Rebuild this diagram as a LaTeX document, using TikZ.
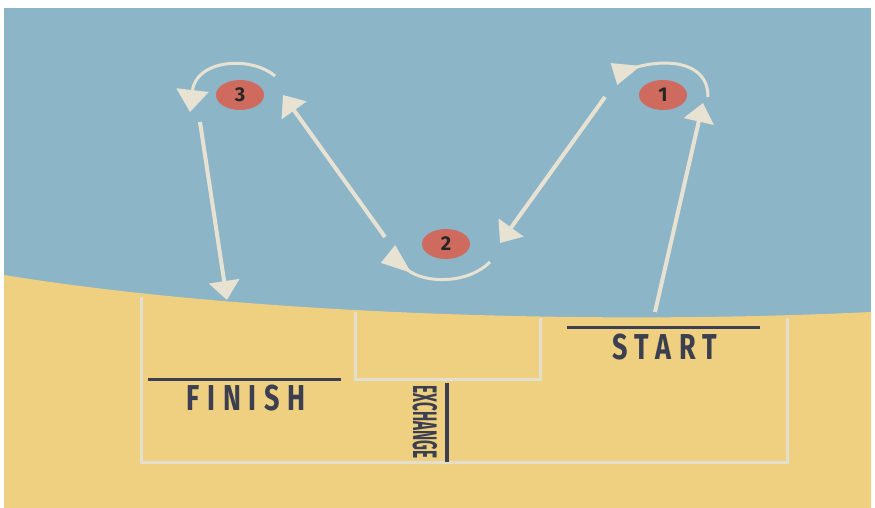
\documentclass[tikz,border=0pt]{standalone}
\usepackage{fontspec}
\newfontfamily\signfont[LetterSpace=28]{Fira Sans}
\newfontfamily\narrowfont{Fira Sans}
\usetikzlibrary{arrows.meta,shapes.geometric}

\definecolor{skyblue}{RGB}{141,181,200}
\definecolor{sand}{RGB}{239,208,128}
\definecolor{courtline}{RGB}{228,222,206}
\definecolor{chalk}{RGB}{232,226,210}
\definecolor{ink}{RGB}{59,63,80}
\definecolor{conered}{RGB}{206,107,94}

\begin{document}
\begin{tikzpicture}[x=0.5pt, y=-0.5pt,
      court/.style={draw=courtline, line width=1.5pt},
      tape/.style={draw=ink, line width=1.5pt},
      runner/.style={draw=chalk, line width=2pt, -{Triangle[length=9.5pt, width=15pt]}},
      turn/.style={draw=chalk, line width=1.5pt},
      cone/.style={ellipse, fill=conered, minimum width=24pt, minimum height=15pt,
                   inner sep=0pt, text=black!85, font=\narrowfont\bfseries\fontsize{10}{10}\selectfont},
      sign/.style={text=ink, font=\signfont\bfseries\fontsize{18}{18}\selectfont, xscale=0.75}]

    \useasboundingbox (0,0) rectangle (875,508);
    \fill[white]   (0,0) rectangle (875,508);
    \fill[skyblue] (4,8) rectangle (871,508);
    \fill[sand] (4,275) .. controls (250,315) and (600,325) .. (871,312) -- (871,508) -- (4,508) -- cycle;

    % court lines
    \draw[court] (141,297) -- (141,463) -- (787,463) -- (787,318);
    \draw[court] (355,312) -- (355,380) -- (540,380) -- (540,318);

    % tapes and signs
    \draw[tape] (148,380) -- (341,380);
    \draw[tape] (567,328) -- (760,328);
    \draw[tape, line width=2pt] (447,383) -- (447,462);

    \node[sign] (finish) at (246,398) {FINISH};
    \node[sign] (start) at (665,347) {START};
    \node[text=ink, font=\narrowfont\bfseries\fontsize{17}{17}\selectfont,
          rotate=-90, xscale=0.45] (exchange) at (425,422) {EXCHANGE};

    % cones
    \node[cone] (c1) at (663,95)  {1};
    \node[cone] (c2) at (446,244) {2};
    \node[cone] (c3) at (240,95)  {3};

    % turns round the cones
    \draw[turn, -{Triangle[reversed, length=14pt, width=11pt]}]
      (708,97) .. controls (708,58) and (660,60) .. (614,74);
    \draw[turn, -{Triangle[reversed, length=15pt, width=11pt]}]
      (490,262) .. controls (468,284) and (425,284) .. (388,254);
    \draw[turn, -{Triangle[length=11pt, width=16pt]}]
      (275,76) .. controls (250,55) and (196,60) .. (190,112);

    % runs between the cones
    \coordinate (foot) at (655,312);
    \coordinate (top1) at (703,103);
    \coordinate (out1) at (605,97);
    \coordinate (in2)  at (500,243);
    \coordinate (out2) at (385,237);
    \coordinate (in3)  at (283,95);
    \coordinate (out3) at (200,122);
    \coordinate (home) at (227,300);

    \draw[runner] (foot) -- (top1);
    \draw[runner] (out1) -- (in2);
    \draw[runner] (out2) -- (in3);
    \draw[runner] (out3) -- (home);
  \end{tikzpicture}
\end{document}
